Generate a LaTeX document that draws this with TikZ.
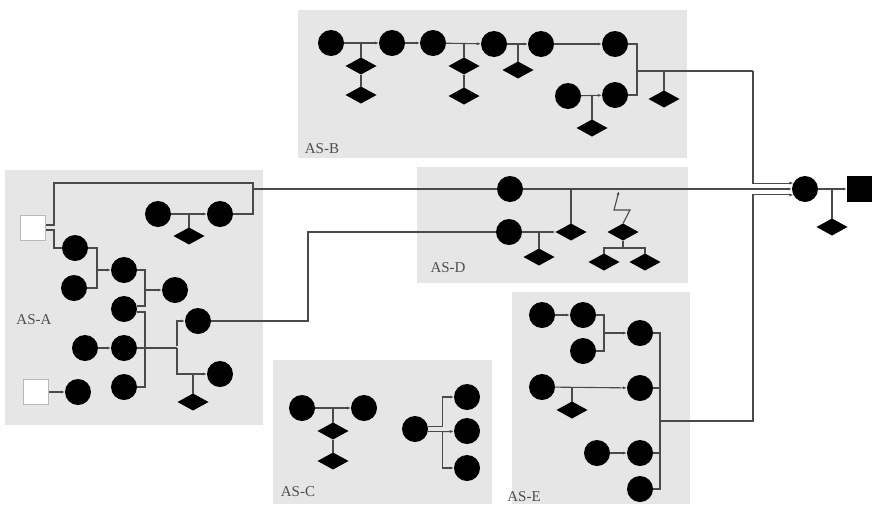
\documentclass[tikz,border=0pt]{standalone}
\usepackage{fontspec}
\setmainfont{Liberation Serif}
\usetikzlibrary{shapes.geometric,arrows.meta}
\definecolor{asgray}{HTML}{E6E6E6}
\definecolor{wiregray}{HTML}{4A4A4A}
\definecolor{lblgray}{HTML}{4D4D4D}
\tikzset{
  asbox/.style={fill=asgray,draw=none},
  rtr/.style={circle,fill=black,minimum size=26pt,inner sep=0pt,outer sep=0pt},
  sw/.style={diamond,fill=black,minimum width=31pt,minimum height=17pt,inner sep=0pt,outer sep=0pt},
  hst/.style={rectangle,draw=gray!55,line width=1pt,fill=white,minimum size=25pt,inner sep=0pt},
  gwbox/.style={rectangle,fill=black,minimum size=26pt,inner sep=0pt,outer sep=0pt},
  wire/.style={draw=wiregray,line width=1.1pt},
  arr/.style={wire,-{Latex[length=4pt,width=3pt]}},
  aslbl/.style={text=lblgray,font=\fontsize{15}{17}\selectfont,inner sep=0pt},
}

\begin{document}
\begin{tikzpicture}[x=1pt,y=-1pt]
      \useasboundingbox (0,0) rectangle (872,504);

      % autonomous systems
      \fill[asbox] (5,170) rectangle (263,425);
      \fill[asbox] (298,10) rectangle (687,158);
      \fill[asbox] (273,360) rectangle (492,504);
      \fill[asbox] (417,167) rectangle (688,283);
      \fill[asbox] (512,292) rectangle (690,504);

      \node[aslbl] (labA) at (34,320) {AS-A};
      \node[aslbl] (labB) at (322,149) {AS-B};
      \node[aslbl] (labC) at (298,492) {AS-C};
      \node[aslbl] (labD) at (448,268) {AS-D};
      \node[aslbl] (labE) at (524,497) {AS-E};

      % AS-A
      \node[hst] (sqA1) at (33,228) {};
      \node[hst] (sqA2) at (36,392) {};
      \node[rtr] (a1) at (158,214) {};
      \node[rtr] (a2) at (220,214) {};
      \node[sw] (ad1) at (189,236) {};
      \node[rtr] (a3) at (75,248) {};
      \node[rtr] (a4) at (74,288) {};
      \node[rtr] (a5) at (124,270) {};
      \node[rtr] (a6) at (175,290) {};
      \node[rtr] (a7) at (124,309) {};
      \node[rtr] (a8) at (198,321) {};
      \node[rtr] (a9) at (85,348) {};
      \node[rtr] (a10) at (124,348) {};
      \node[rtr] (a11) at (220,374) {};
      \node[sw] (ad2) at (193,402) {};
      \node[rtr] (a12) at (78,392) {};
      \node[rtr] (a13) at (124,387) {};
      \coordinate (ja1) at (253,189);
      \coordinate (ja2) at (97,270);
      \coordinate (ja3) at (145,290);
      \coordinate (ja4) at (145,348);
      \coordinate (ja5) at (177,348);

      \draw[wire] ([yshift=3pt]sqA1.east) -- ++(8,0) |- (253,183) |- (a2);
      \draw[wire] ([yshift=-2pt]sqA1.east) -- ++(8,0) |- (a3);
      \draw[arr] (a1) -- (a2);
      \draw[wire] (a1 -| ad1) -- (ad1);
      \draw[wire] (a3) -| (ja2) |- (a4);
      \draw[arr] (ja2) -- (a5);
      \draw[wire] (a5) -| (ja3) |- ([yshift=3pt]a7.east);
      \draw[arr] (ja3) -- (a6);
      \draw[wire] ([yshift=-3pt]a7.east) -| (ja4) |- (a13);
      \draw[arr] (a9) -- (a10);
      \draw[wire] (a10) -- (ja5);
      \draw[arr] ([yshift=2pt]ja5) |- (a8);
      \draw[arr] (ja5) |- (a11);
      \draw[wire] (a11 -| ad2) -- (ad2);
      \draw[arr] (sqA2) -- (a12);

      % AS-B
      \node[rtr] (b1) at (331,43) {};
      \node[rtr] (b2) at (392,43) {};
      \node[rtr] (b3) at (433,43) {};
      \node[rtr] (b4) at (494,44) {};
      \node[rtr] (b5) at (541,44) {};
      \node[rtr] (b6) at (615,44) {};
      \node[rtr] (b7) at (568,96) {};
      \node[rtr] (b8) at (615,95) {};
      \node[sw] (bd1) at (361,66) {};
      \node[sw] (bd2) at (361,95) {};
      \node[sw] (bd3) at (464,66) {};
      \node[sw] (bd4) at (464,96) {};
      \node[sw] (bd5) at (518,70) {};
      \node[sw] (bd6) at (592,128) {};
      \node[sw] (bd7) at (664,99) {};
      \coordinate (jb) at (637,71);
      \coordinate (kb) at (753,71);

      \draw[arr] (b1) -- (b2);
      \draw[wire] (b1 -| bd1) -- (bd1) -- (bd2);
      \draw[arr] (b2) -- (b3);
      \draw[arr] (b3) -- (b4);
      \draw[wire] (b3 -| bd3) -- (bd3) -- (bd4);
      \draw[arr] (b4) -- (b5);
      \draw[wire] (b4 -| bd5) -- (bd5);
      \draw[arr] (b5) -- (b6);
      \draw[arr] (b7) -- (b8);
      \draw[wire] (b7 -| bd6) -- (bd6);
      \draw[wire] (b6) -| (jb) |- (b8);
      \draw[wire] (jb) -- (kb);
      \draw[wire] (jb -| bd7) -- (bd7);

      % AS-C
      \node[rtr] (c1) at (302,408) {};
      \node[rtr] (c2) at (364,408) {};
      \node[sw] (cd1) at (333,431) {};
      \node[sw] (cd2) at (333,461) {};
      \node[rtr] (c3) at (415,429) {};
      \node[rtr] (c4) at (467,397) {};
      \node[rtr] (c5) at (467,431) {};
      \node[rtr] (c6) at (467,468) {};

      \draw[arr] (c1) -- (c2);
      \draw[wire] (c1 -| cd1) -- (cd1) -- (cd2);
      \draw[arr] (c3.12) -- ++(15,0) |- (c4);
      \draw[arr] (c3.-12) -- ++(15,0) |- (c6);
      \draw[arr] (c3.-12) ++(15,0) -- (c5);

      % AS-D
      \node[rtr] (d1) at (510,189) {};
      \node[rtr] (d2) at (509,232) {};
      \node[sw] (dd1) at (539,257) {};
      \node[sw] (dd2) at (571,232) {};
      \node[sw] (dd3) at (623,232) {};
      \node[sw] (dd4) at (604,262) {};
      \node[sw] (dd5) at (645,262) {};
      \coordinate (zz) at (619,191);

      \draw[wire] (ja1) -- (d1);
      \draw[wire] (a8) -| (308,232) -- (d2);
      \draw[arr] (d2) -- (dd2);
      \draw[wire] (d2 -| dd1) -- (dd1);
      \draw[wire] (d1 -| dd2) -- (dd2);
      \draw[arr] (dd3.north) -- (630,210) -- (614,210) -- (zz);
      \draw[wire] (dd3) -- (623,248);
      \draw[wire] (dd4) -- (604,248) -- (645,248) -- (dd5);

      % AS-E
      \node[rtr] (e1) at (542,315) {};
      \node[rtr] (e2) at (583,315) {};
      \node[rtr] (e3) at (583,351) {};
      \node[rtr] (e4) at (640,333) {};
      \node[rtr] (e5) at (542,387) {};
      \node[rtr] (e6) at (640,388) {};
      \node[sw] (ed1) at (572,410) {};
      \node[rtr] (e7) at (597,453) {};
      \node[rtr] (e8) at (640,453) {};
      \node[rtr] (e9) at (640,489) {};
      \coordinate (je1) at (604,333);
      \coordinate (je2) at (660,421);

      \draw[arr] (e1) -- (e2);
      \draw[wire] (e2) -| (je1) |- (e3);
      \draw[arr] (je1) -- (e4);
      \draw[arr] (e5) -- (e6);
      \draw[wire] (e5 -| ed1) -- (ed1);
      \draw[arr] (e7) -- (e8);
      \draw[wire] (e4) -| (je2) |- (e9);
      \draw[wire] (e6) -- (e6 -| je2);
      \draw[wire] (e8) -- (e8 -| je2);

      % border gateway
      \node[rtr] (fin) at (805,189) {};
      \node[gwbox] (gw) at (860,189) {};
      \node[sw] (fd) at (832,227) {};

      \draw[arr] (kb) |- (fin.153);
      \draw[arr] (d1) -- (fin);
      \draw[arr] (je2) -- (753,421) |- (fin.207);
      \draw[arr] (fin) -- (gw);
      \draw[wire] (fin -| fd) -- (fd);
    \end{tikzpicture}
\end{document}
